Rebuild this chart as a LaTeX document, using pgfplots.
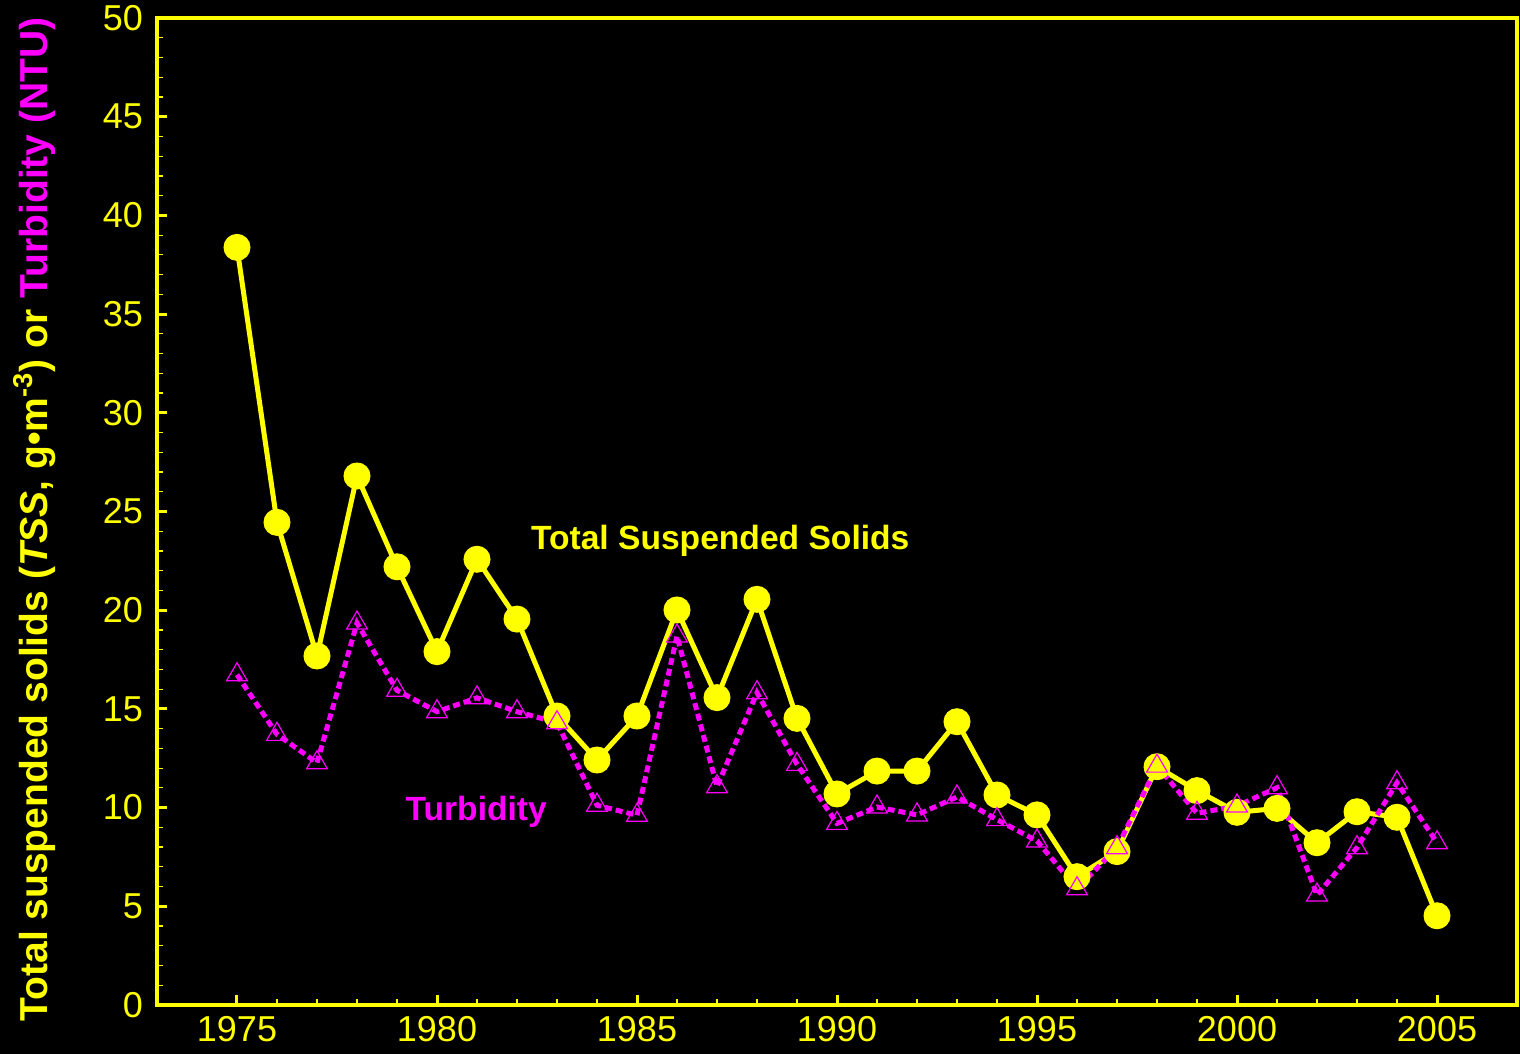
\documentclass[border=0pt]{standalone}
\usepackage{pgfplots}
\pgfplotsset{compat=1.18}
\usepackage{fontspec}
\setmainfont{Liberation Sans}
\usetikzlibrary{backgrounds}
\definecolor{tssyellow}{RGB}{255,255,0}
\definecolor{turbmag}{RGB}{255,0,255}
\begin{document}
\begin{tikzpicture}
\useasboundingbox (-78.5pt,-24.5pt) rectangle (681.5pt,502.5pt);
\begin{axis}[
  at={(0,0)}, anchor=south west,
  scale only axis,
  width=680pt, height=493.5pt,
  xmin=1973, xmax=2007,
  ymin=0, ymax=50,
  xtick={1975,1980,...,2005},
  ytick={0,5,...,50},
  minor x tick num=4,
  minor y tick num=4,
  tick pos=left,
  tick align=inside,
  major tick length=5pt,
  minor tick length=3pt,
  major tick style={tssyellow, line width=1.5pt},
  minor tick style={tssyellow, line width=0.6pt},
  axis line style={tssyellow, line width=2pt},
  ticklabel style={tssyellow, font=\fontsize{18}{20}\selectfont},
  /pgf/number format/assume math mode=true,
  /pgf/number format/1000 sep={},
  yticklabel style={xshift=-3.5pt},
  xticklabel style={yshift=-2pt},
  every axis y label/.style={at={(axis description cs:-0.0897,0.492)}, anchor=center, rotate=90},
  ylabel={\fontsize{19.5}{22}\selectfont\bfseries\textcolor{tssyellow}{Total suspended solids (\textit{TSS}, g•m\textsuperscript{-3}) or }\textcolor{turbmag}{Turbidity (NTU)}},
  clip=false,
]
\addplot[tssyellow, line width=2.5pt, mark=*, mark size=6.5pt, mark options={solid, fill=tssyellow, draw=tssyellow, line width=0.5pt}] coordinates {
(1975,38.38) (1976,24.45) (1977,17.68) (1978,26.8) (1979,22.2) (1980,17.9)
(1981,22.58) (1982,19.55) (1983,14.64) (1984,12.41) (1985,14.64) (1986,20.01)
(1987,15.57) (1988,20.55) (1989,14.52) (1990,10.69) (1991,11.85) (1992,11.85)
(1993,14.35) (1994,10.64) (1995,9.63) (1996,6.5) (1997,7.77) (1998,12.07)
(1999,10.86) (2000,9.76) (2001,9.96) (2002,8.22) (2003,9.79) (2004,9.51) (2005,4.52)
};
\addplot[draw=turbmag, line width=2.5pt, dash pattern=on 3.5pt off 2pt, mark=triangle, mark size=6pt, mark options={solid, draw=turbmag, line width=0.6pt}] coordinates {
(1975,16.73) (1976,13.71) (1977,12.27) (1978,19.35) (1979,15.94) (1980,14.86)
(1981,15.56) (1982,14.86) (1983,14.3) (1984,10.12) (1985,9.61) (1986,18.69)
(1987,11.06) (1988,15.82) (1989,12.19) (1990,9.2) (1991,10.03) (1992,9.63)
(1993,10.54) (1994,9.39) (1995,8.31) (1996,5.89) (1997,7.97) (1998,12.1)
(1999,9.71) (2000,10.08) (2001,11.01) (2002,5.57) (2003,7.97) (2004,11.26) (2005,8.22)
};
\node[tssyellow, font=\fontsize{16.8}{19}\selectfont\bfseries] at (axis cs:1987.08,23.5) {Total Suspended Solids};
\node[turbmag, font=\fontsize{16.8}{19}\selectfont\bfseries] at (axis cs:1980.98,9.78) {Turbidity};
\end{axis}
\begin{pgfonlayer}{background}
\fill[black] (-78.5pt,-24.5pt) rectangle (681.5pt,502.5pt);
\end{pgfonlayer}
\end{tikzpicture}
\end{document}
